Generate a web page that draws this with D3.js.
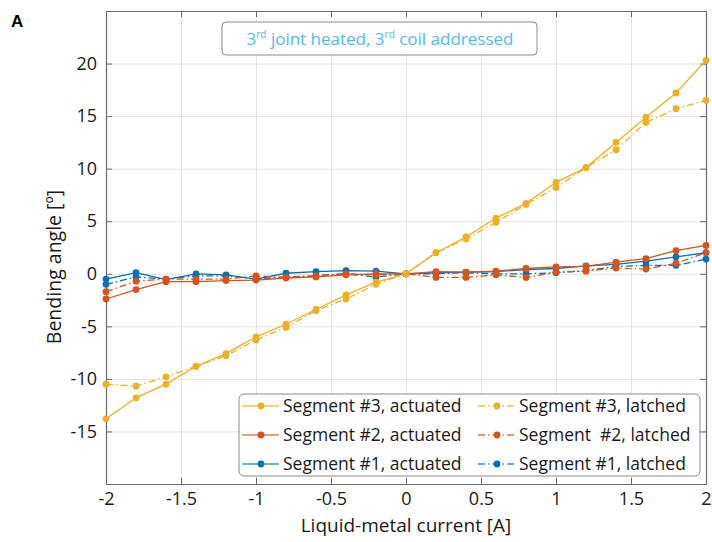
<!DOCTYPE html>
<meta charset="utf-8">
<style>
body { margin: 0; background: #fff; }
svg { display: block; font-family: "Open Sans", sans-serif; }
</style>
<script src="https://d3js.org/d3.v7.min.js"></script>
<svg width="712" height="542"></svg>
<script>
// currents in A, bending angles in degrees
var currents = [-2, -1.8, -1.6, -1.4, -1.2, -1, -0.8, -0.6, -0.4, -0.2, 0, 0.2, 0.4, 0.6, 0.8, 1, 1.2, 1.4, 1.6, 1.8, 2];

var seg3Actuated = [-13.8, -11.8, -10.5, -8.8, -7.6, -6.0, -4.8, -3.4, -2.0, -0.8, 0, 2.0, 3.5, 5.3, 6.7, 8.7, 10.1, 12.5, 14.9, 17.2, 20.3];
var seg3Latched  = [-10.5, -10.7, -9.8, -8.8, -7.8, -6.3, -5.1, -3.5, -2.4, -1.0, 0, 2.0, 3.3, 4.9, 6.6, 8.2, 10.1, 11.8, 14.4, 15.7, 16.5];
var seg2Actuated = [-2.4, -1.5, -0.75, -0.75, -0.65, -0.6, -0.4, -0.3, -0.1, 0.0, 0, 0.2, 0.15, 0.25, 0.5, 0.65, 0.7, 1.1, 1.45, 2.2, 2.7];
var seg2Latched  = [-1.7, -0.7, -0.5, -0.5, -0.5, -0.2, -0.35, -0.2, 0.0, -0.1, 0, -0.35, -0.35, -0.1, -0.35, 0.15, 0.25, 0.55, 0.45, 1.0, 2.0];
var seg1Actuated = [-0.5, 0.1, -0.55, 0.0, -0.1, -0.5, 0.05, 0.2, 0.3, 0.25, 0, 0.1, 0.15, 0.2, 0.4, 0.5, 0.75, 0.9, 1.2, 1.6, 2.0];
var seg1Latched  = [-1.0, -0.3, -0.5, -0.2, -0.2, -0.5, -0.3, -0.2, 0.0, -0.3, 0, 0.0, 0.1, 0.0, 0.0, 0.1, 0.3, 0.7, 0.8, 0.8, 1.4];

var xTicks = [-2, -1.5, -1, -0.5, 0, 0.5, 1, 1.5, 2];
var yTicks = [-15, -10, -5, 0, 5, 10, 15, 20];

var legendNames = [
  "Segment #3, actuated", "Segment #3, latched",
  "Segment #2, actuated", "Segment  #2, latched",
  "Segment #1, actuated", "Segment #1, latched"
];

var yellow = "#EDB120", red = "#D95319", blue = "#0072BD";
var dashDot = "7,3,1.5,3";

var series = [
  { name: legendNames[4], values: seg1Actuated, color: blue, dash: null },
  { name: legendNames[5], values: seg1Latched, color: blue, dash: dashDot },
  { name: legendNames[2], values: seg2Actuated, color: red, dash: null },
  { name: legendNames[3], values: seg2Latched, color: red, dash: dashDot },
  { name: legendNames[0], values: seg3Actuated, color: yellow, dash: null },
  { name: legendNames[1], values: seg3Latched, color: yellow, dash: dashDot }
];

var svg = d3.select("svg");
var pLeft = 106, pRight = 706, pTop = 11, pBottom = 484;

var x = d3.scaleLinear().domain([-2, 2]).range([pLeft, pRight]);
var y = d3.scaleLinear().domain([-20, 25]).range([pBottom, pTop]);

// grid
svg.append("g")
  .attr("transform", "translate(0," + pBottom + ")")
  .call(d3.axisBottom(x).tickValues(xTicks).tickSize(-(pBottom - pTop)).tickFormat(""))
  .call(function(g) { g.select(".domain").remove(); })
  .selectAll("line").attr("stroke", "#e3e3e3");
svg.append("g")
  .attr("transform", "translate(" + pLeft + ",0)")
  .call(d3.axisLeft(y).tickValues(yTicks).tickSize(-(pRight - pLeft)).tickFormat(""))
  .call(function(g) { g.select(".domain").remove(); })
  .selectAll("line").attr("stroke", "#e3e3e3");

// axes (ticks inside, on all four sides)
var axisColor = "#6b6b6b";
function styleAxis(g) {
  g.select(".domain").attr("stroke", axisColor).attr("stroke-width", 1.2);
  g.selectAll(".tick line").attr("stroke", axisColor);
  g.selectAll("text").attr("fill", "#1a1a1a").style("font-size", "18px").style("font-family", "Open Sans, sans-serif");
}
svg.append("g")
  .attr("transform", "translate(0," + pBottom + ")")
  .call(d3.axisBottom(x).tickValues(xTicks).tickSizeInner(-6).tickSizeOuter(0).tickPadding(8).tickFormat(function(d) { return String(d); }))
  .call(styleAxis);
svg.append("g")
  .attr("transform", "translate(0," + pTop + ")")
  .call(d3.axisTop(x).tickValues(xTicks).tickSizeInner(-6).tickSizeOuter(0).tickFormat(""))
  .call(styleAxis);
svg.append("g")
  .attr("transform", "translate(" + pLeft + ",0)")
  .call(d3.axisLeft(y).tickValues(yTicks).tickSizeInner(-6).tickSizeOuter(0).tickPadding(9).tickFormat(function(d) { return String(d); }))
  .call(styleAxis);
svg.append("g")
  .attr("transform", "translate(" + pRight + ",0)")
  .call(d3.axisRight(y).tickValues(yTicks).tickSizeInner(-6).tickSizeOuter(0).tickFormat(""))
  .call(styleAxis);

// data
var line = d3.line()
  .x(function(d) { return x(d[0]); })
  .y(function(d) { return y(d[1]); });

var g = svg.selectAll(".series").data(series).enter().append("g").attr("class", "series");
g.append("path")
  .attr("d", function(s) { return line(d3.zip(currents, s.values)); })
  .attr("fill", "none")
  .attr("stroke", function(s) { return s.color; })
  .attr("stroke-width", 1.3)
  .attr("stroke-dasharray", function(s) { return s.dash; });
g.selectAll("circle")
  .data(function(s) { return s.values.map(function(v, i) { return { x: currents[i], y: v, color: s.color }; }); })
  .enter().append("circle")
  .attr("cx", function(d) { return x(d.x); })
  .attr("cy", function(d) { return y(d.y); })
  .attr("r", 3.4)
  .attr("fill", function(d) { return d.color; });

// axis labels
svg.append("text")
  .attr("x", 406).attr("y", 532)
  .attr("text-anchor", "middle")
  .style("font-size", "19px").attr("fill", "#1a1a1a")
  .text("Liquid-metal current [A]");
svg.append("text")
  .attr("transform", "translate(61,267) rotate(-90)")
  .attr("text-anchor", "middle")
  .style("font-size", "19.5px").attr("fill", "#1a1a1a")
  .text("Bending angle [º]");

// panel letter
svg.append("text")
  .attr("x", 11).attr("y", 27)
  .style("font-family", "Liberation Sans, sans-serif")
  .style("font-weight", "bold").style("font-size", "17px")
  .text("A");

// title box
svg.append("rect")
  .attr("x", 222).attr("y", 22).attr("width", 315).attr("height", 33).attr("rx", 4)
  .attr("fill", "#fff").attr("stroke", "#8a8a8a");
var title = svg.append("text")
  .attr("x", 380).attr("y", 45)
  .attr("text-anchor", "middle")
  .attr("fill", "#4DBEEE")
  .style("font-size", "17px");
title.append("tspan").text("3");
title.append("tspan").attr("dy", -7).style("font-size", "10px").text("rd");
title.append("tspan").attr("dy", 7).text(" joint heated, 3");
title.append("tspan").attr("dy", -7).style("font-size", "10px").text("rd");
title.append("tspan").attr("dy", 7).text(" coil addressed");

// legend
var legend = svg.append("g");
legend.append("rect")
  .attr("x", 239).attr("y", 394).attr("width", 461).attr("height", 82).attr("rx", 5)
  .attr("fill", "#fff").attr("stroke", "#8a8a8a");
var legendItems = [series[4], series[5], series[2], series[3], series[0], series[1]];
var li = legend.selectAll(".li").data(legendItems).enter().append("g")
  .attr("transform", function(s, i) {
    return "translate(" + (i % 2 ? 478 : 242) + "," + (406 + Math.floor(i / 2) * 29) + ")";
  });
li.append("line")
  .attr("x1", 0).attr("x2", 37)
  .attr("stroke", function(s) { return s.color; })
  .attr("stroke-opacity", function(s) { return s.dash ? 0.8 : 0.75; })
  .attr("stroke-width", 1.3)
  .attr("stroke-dasharray", function(s) { return s.dash; });
li.append("circle").attr("cx", 19).attr("r", 3.4).attr("fill", function(s) { return s.color; });
li.append("text")
  .attr("x", 41).attr("y", 6)
  .style("font-size", "17.5px").style("white-space", "pre").attr("fill", "#1a1a1a")
  .text(function(s) { return s.name; });
</script>
